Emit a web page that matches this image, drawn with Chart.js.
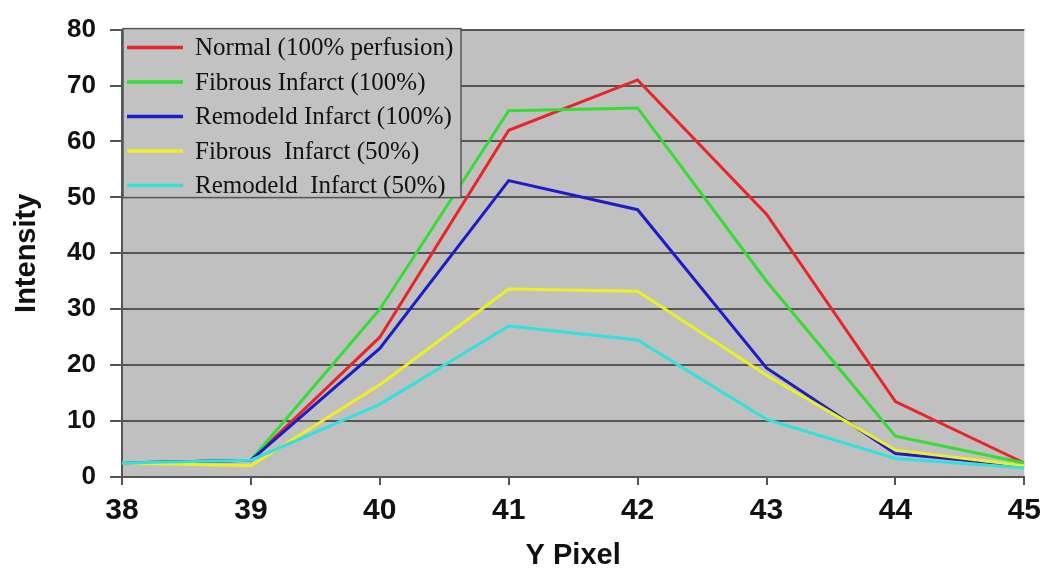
<!DOCTYPE html>
<html>
<head>
<meta charset="utf-8">
<script src="https://cdn.jsdelivr.net/npm/chart.js@4/dist/chart.umd.min.js"></script>
<style>
  html, body { margin: 0; padding: 0; background: #fff; }
  #wrap { width: 1049px; height: 573px; }
</style>
</head>
<body>
<div id="wrap"><canvas id="chart"></canvas></div>
<script>
const yPixel = [38, 39, 40, 41, 42, 43, 44, 45];

const normal100 = [2.5, 3, 25, 62, 71, 47, 13.5, 2.5];
const fibrous100 = [2.5, 3, 30, 65.5, 66, 35, 7.3, 2.5];
const remodeld100 = [2.5, 3, 23, 53, 47.8, 19.5, 4.2, 2];
const fibrous50 = [2.5, 2, 16.5, 33.6, 33.2, 18.2, 4.8, 2];
const remodeld50 = [2.5, 3, 13, 27, 24.5, 10.3, 3.3, 1.6];

const seriesNames = [
  'Normal (100% perfusion)',
  'Fibrous Infarct (100%)',
  'Remodeld Infarct (100%)',
  'Fibrous  Infarct (50%)',
  'Remodeld  Infarct (50%)'
];
const seriesColors = ['#e8262a', '#33dd33', '#1c1cc8', '#eeee22', '#33e0e0'];
const allSeries = [normal100, fibrous100, remodeld100, fibrous50, remodeld50];

const toPoints = vals => vals.map((v, i) => ({ x: yPixel[i], y: v }));
const sans = '"Liberation Sans", Arial, sans-serif';

// gray plot background
const plotBg = {
  id: 'plotBg',
  beforeDraw(chart) {
    const { ctx, chartArea: a } = chart;
    ctx.save();
    ctx.fillStyle = '#c0c0c0';
    ctx.fillRect(a.left, a.top, a.right - a.left, a.bottom - a.top);
    ctx.restore();
  }
};

// boxed legend sitting inside the plot, top left
const boxLegend = {
  id: 'boxLegend',
  afterDatasetsDraw(chart) {
    const { ctx, chartArea: a } = chart;
    const x0 = a.left + 1, y0 = a.top - 1, w = 338, h = 169;
    ctx.save();
    ctx.fillStyle = '#c2c2c2';
    ctx.fillRect(x0, y0, w, h);
    ctx.strokeStyle = '#555';
    ctx.lineWidth = 1.5;
    ctx.strokeRect(x0, y0, w, h);
    ctx.font = '25px "Liberation Serif", "Times New Roman", serif';
    ctx.textBaseline = 'middle';
    chart.data.datasets.forEach((ds, i) => {
      const y = y0 + 19 + i * 34.5;
      ctx.strokeStyle = ds.borderColor;
      ctx.lineWidth = 3.5;
      ctx.beginPath();
      ctx.moveTo(x0 + 4, y);
      ctx.lineTo(x0 + 60, y);
      ctx.stroke();
      ctx.fillStyle = '#111';
      ctx.fillText(ds.label, x0 + 72, y + 1);
    });
    ctx.restore();
  }
};

new Chart(document.getElementById('chart'), {
  type: 'line',
  data: {
    datasets: allSeries.map((vals, i) => ({
      label: seriesNames[i],
      data: toPoints(vals),
      borderColor: seriesColors[i],
      borderWidth: 3,
      pointRadius: 0,
      tension: 0,
      order: allSeries.length - i
    }))
  },
  options: {
    responsive: true,
    maintainAspectRatio: false,
    animation: false,
    layout: { padding: { top: 25, right: 20, left: 0, bottom: 0 } },
    plugins: {
      legend: { display: false },
      tooltip: { enabled: false }
    },
    scales: {
      x: {
        type: 'linear',
        min: 38,
        max: 45,
        afterFit: s => { s.height = 96; },
        ticks: {
          stepSize: 1,
          color: '#111',
          padding: 8,
          font: { family: sans, size: 30, weight: 'bold' }
        },
        grid: { drawOnChartArea: false, drawTicks: true, tickLength: 8, color: '#555', lineWidth: 2 },
        border: { color: '#555', width: 2 },
        title: {
          display: true,
          text: 'Y Pixel',
          color: '#111',
          padding: { top: 0, bottom: 0 },
          font: { family: sans, size: 29, weight: 'bold' }
        }
      },
      y: {
        min: 0,
        max: 80,
        afterFit: s => { s.width = 122; },
        ticks: {
          stepSize: 10,
          color: '#111',
          padding: 14,
          font: { family: sans, size: 26, weight: 'bold' }
        },
        grid: { color: '#555', lineWidth: 2, tickLength: 12 },
        border: { color: '#555', width: 2 },
        title: {
          display: true,
          text: 'Intensity',
          color: '#111',
          padding: { top: 10, bottom: 0 },
          font: { family: sans, size: 29, weight: 'bold' }
        }
      }
    }
  },
  plugins: [plotBg, boxLegend]
});
</script>
</body>
</html>
